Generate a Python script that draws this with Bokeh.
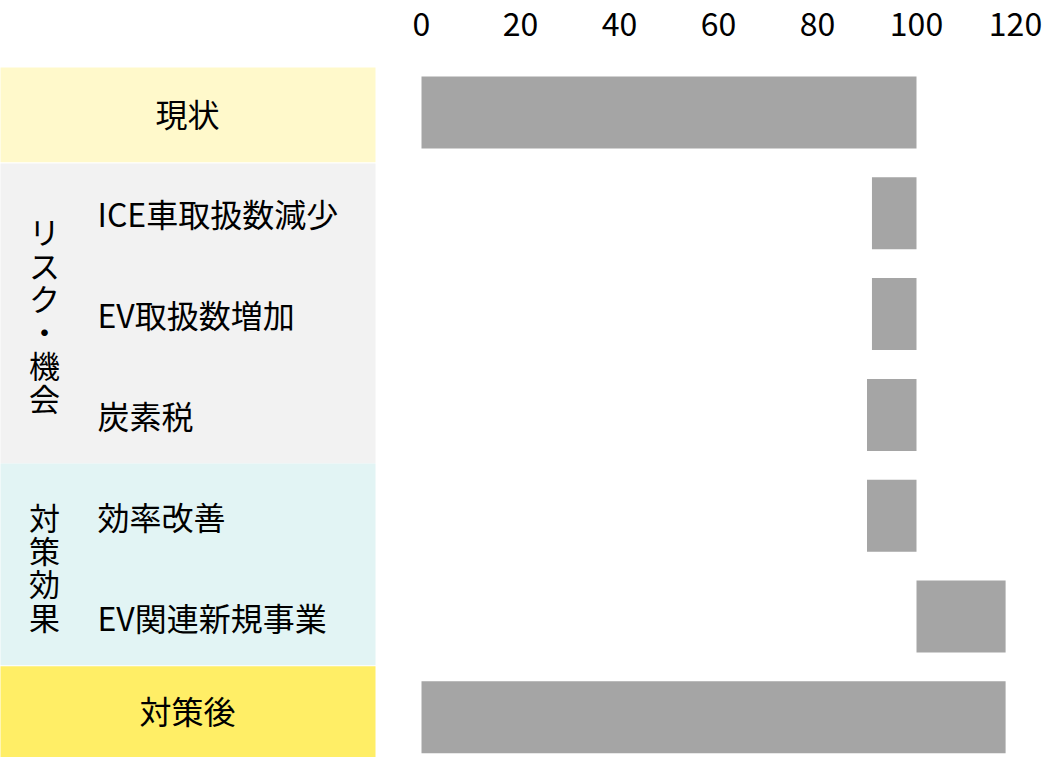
from bokeh.plotting import figure
from bokeh.models import Range1d, FixedTicker, ColumnDataSource
from bokeh.embed import file_html
from bokeh.resources import INLINE
from bokeh.core.properties import value

# ---------------- data ----------------
categories = ["現状", "ICE車取扱数減少", "EV取扱数増加", "炭素税", "効率改善", "EV関連新規事業", "対策後"]
bar_start = [0, 91, 91, 90, 90, 100, 0]
bar_end = [100, 100, 100, 100, 100, 118, 118]
x_ticks = [0, 20, 40, 60, 80, 100, 120]
group_names = ["リスク・機会", "対策効果"]
group_rows = [(1, 3), (4, 5)]          # first/last row of each group

# ---------------- layout (pixels) ----------------
W, H = 1042, 757
FRAME_TOP = 45
X0_PX = 421          # pixel of value 0
PX_PER_UNIT = 4.95
ROW0_PX = 112        # pixel of first row centre
ROW_PX = 100.8

def px_to_x(px):
    return (px - X0_PX) / PX_PER_UNIT

def py_to_row(py):
    return (py - ROW0_PX) / ROW_PX

FONT = value("Noto Sans CJK JP")

p = figure(width=W, height=H, output_backend="svg", toolbar_location=None,
           x_range=Range1d(px_to_x(0), px_to_x(W)),
           y_range=Range1d(py_to_row(H), py_to_row(FRAME_TOP)),
           x_axis_location="above",
           min_border_top=FRAME_TOP, min_border_left=0, min_border_right=0,
           min_border_bottom=0)
p.outline_line_color = None
p.background_fill_color = "white"
p.border_fill_color = "white"
p.xgrid.visible = False
p.ygrid.visible = False
p.yaxis.visible = False
ax = p.xaxis[0]
ax.ticker = FixedTicker(ticks=x_ticks)
ax.axis_line_color = None
ax.major_tick_line_color = None
ax.minor_tick_line_color = None
ax.major_label_text_font_size = "32px"
ax.major_label_text_font = "Noto Sans CJK JP"
ax.major_label_text_color = "black"
ax.major_label_standoff = 4

# ---------------- left panel bands ----------------
n = len(categories)
panel_left = px_to_x(-20)
panel_right = px_to_x(375)
g1_first, g1_last = group_rows[0]
g2_first, g2_last = group_rows[1]
band_top = [py_to_row(67), g1_first - 0.494, g2_first - 0.518, g2_last + 0.494]
band_bot = [0.494, g1_last + 0.482, g2_last + 0.484, n + 1]
band_col = ["#FFF9CB", "#F2F2F2", "#E2F4F4", "#FFEE66"]
p.quad(left=[panel_left] * 4, right=[panel_right] * 4, top=band_top, bottom=band_bot,
       fill_color=band_col, line_color=None)

# ---------------- bars ----------------
rows = list(range(n))
src = ColumnDataSource(dict(y=rows, left=bar_start, right=bar_end))
p.hbar(y="y", left="left", right="right", height=0.714, source=src,
       fill_color="#A5A5A5", line_color=None)

# ---------------- labels ----------------
center_x = px_to_x(187)
sub_x = px_to_x(97)
grp_x = px_to_x(44)

# top / bottom (centred)
p.text(x=[center_x], y=[0], text=[categories[0]], text_align="center",
       text_baseline="middle", text_font=FONT, text_font_size="32px", text_color="black")
p.text(x=[center_x], y=[py_to_row(709)], text=[categories[-1]],
       text_align="center", text_baseline="middle", text_font=FONT,
       text_font_size="32px", text_color="black")

# sub labels
p.text(x=[sub_x] * (n - 2), y=rows[1:-1], text=categories[1:-1], text_align="left",
       text_baseline="middle", text_font=FONT, text_font_size="32px", text_color="black")

# vertical group labels
gy = [(a + b) / 2 for a, b in group_rows]
gtxt = ["\n".join(list(g)) for g in group_names]
p.text(x=[grp_x] * 2, y=gy, text=gtxt, text_align="center", text_baseline="middle",
       text_font=FONT, text_font_size="31px", text_line_height=0.74, text_color="black")

open("out.html", "w").write(file_html(p, INLINE))
